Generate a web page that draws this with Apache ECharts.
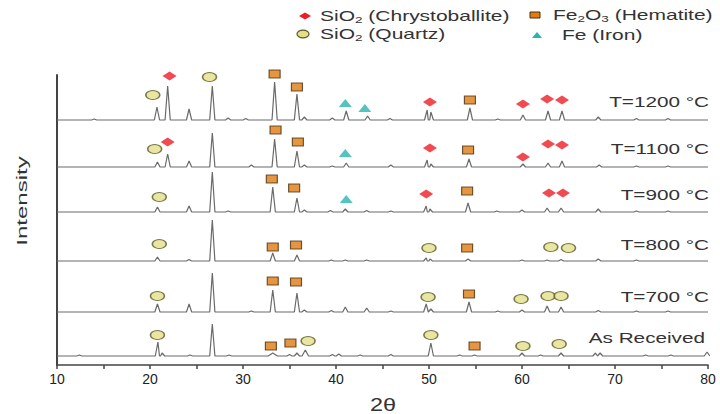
<!DOCTYPE html>
<html>
<head>
<meta charset="utf-8">
<script src="https://cdn.jsdelivr.net/npm/echarts@6/dist/echarts.min.js"></script>
<style>
  html, body { margin: 0; padding: 0; background: #fff; }
  #chart { width: 720px; height: 414px; }
</style>
</head>
<body>
<div id="chart"></div>
<script>
// samples, bottom to top, and the vertical offset of each trace
const samples = ['As Received', 'T=700 °C', 'T=800 °C', 'T=900 °C', 'T=1100 °C', 'T=1200 °C'];
const offsets = [9, 53, 104, 153, 198, 245];

// peaks: [2θ, height above the trace baseline, half width]
const peaksAR = [[12.4, 1], [20.85, 14], [21.3, 3], [24.3, 1], [26.7, 32], [28.5, 1], [33.2, 3, 0.5], [35.0, 1.5], [35.8, 3],
  [36.7, 6, 0.35], [39.6, 1.5], [40.3, 2], [42.6, 1], [45.9, 1.5], [50.2, 13], [53.3, 1], [54.9, 1],
  [60.0, 3], [62.0, 1], [64.2, 3], [67.9, 3], [68.4, 3], [73.3, 1], [76.0, 1], [79.9, 4, 0.3]];
const peaks700 = [[20.8, 8], [24.2, 8], [26.7, 39], [30.9, 1], [33.2, 22], [35.8, 19], [36.6, 2], [39.5, 1.5], [41.0, 5],
  [43.3, 4], [45.9, 1], [49.7, 8], [50.2, 3], [54.3, 10], [57.4, 1], [60.0, 2], [62.7, 6], [64.2, 5],
  [68.2, 1.5], [72.3, 1], [75.7, 1]];
const peaks800 = [[20.8, 4], [24.2, 1.5], [26.7, 41], [33.2, 8], [35.8, 6], [39.5, 1], [41.0, 1], [43.3, 1],
  [49.7, 3], [50.1, 2], [54.2, 2], [60.0, 1], [62.7, 1], [64.2, 1.5], [68.2, 2], [72.3, 1]];
const peaks900 = [[20.8, 5], [24.2, 6], [26.7, 40], [28.4, 1], [33.2, 25], [35.8, 14], [36.6, 2], [39.4, 1.5], [41.0, 3],
  [43.3, 1.5], [45.9, 1], [49.7, 6], [50.1, 3], [54.2, 9], [57.3, 1], [60.0, 2], [62.7, 4], [64.2, 4],
  [68.2, 3], [72.3, 1], [75.7, 1]];
const peaks1100 = [[20.8, 5], [21.9, 13], [24.2, 6], [26.7, 34], [30.9, 2], [33.4, 28], [35.8, 16], [36.6, 2],
  [39.6, 1], [41.1, 4], [45.9, 2], [49.8, 7], [50.2, 3], [54.3, 8], [60.1, 3], [62.8, 4], [64.3, 6],
  [68.3, 2], [72.3, 1], [75.7, 1]];
const peaks1200 = [[14.0, 1], [20.75, 13], [21.9, 34], [24.2, 11], [26.7, 34], [28.4, 2], [30.3, 1.5], [33.4, 38],
  [35.8, 26], [36.6, 3], [39.6, 2], [41.1, 9], [43.4, 4], [45.8, 1.5], [49.8, 10], [50.2, 8], [54.4, 12],
  [57.4, 1], [60.1, 5], [62.8, 9], [64.3, 9], [68.2, 3], [72.3, 1.5], [75.7, 1.5]];
const peakSets = [peaksAR, peaks700, peaks800, peaks900, peaks1100, peaks1200];

// phase markers: [2θ, height on the stacked intensity axis]
const cristobaliteMarks = [[22.1, 289], [50.1, 263], [60.1, 261], [62.7, 266], [64.3, 265],
  [21.9, 223], [50.1, 217], [60.1, 208], [62.8, 221], [64.3, 220],
  [49.7, 171], [62.9, 172], [64.4, 172]];
const quartzMarks = [[20.3, 270], [26.4, 288], [20.5, 216], [21.0, 168],
  [21.0, 121], [50.0, 117], [63.1, 118], [65.0, 117],
  [20.8, 69], [49.9, 68], [59.9, 66], [62.8, 69], [64.2, 69],
  [20.8, 30], [37.0, 24], [50.2, 30], [60.1, 19], [64.0, 21]];
const hematiteMarks = [[33.4, 291], [35.8, 278], [54.4, 265], [33.5, 235], [35.9, 223], [54.2, 215],
  [33.1, 186], [35.5, 177], [54.1, 174], [33.2, 118], [35.7, 120], [54.1, 117],
  [33.2, 84], [35.7, 83], [54.3, 71], [33.0, 19], [35.1, 22], [54.9, 19]];
const ironMarks = [[41.0, 262], [43.1, 257], [41.0, 212], [41.1, 166]];

const xTicks = [10, 20, 30, 40, 50, 60, 70, 80];

// build a polyline from the peak list
function trace(peaks, base) {
  const pts = [[xTicks[0], base]];
  peaks.forEach(function (p) {
    const w = p[2] || 0.28;
    pts.push([p[0] - w, base], [p[0], base + p[1]], [p[0] + w, base]);
  });
  const last = peaks[peaks.length - 1];
  if (last[0] < 79.5) pts.push([xTicks[xTicks.length - 1], base]);
  return pts.sort(function (a, b) { return a[0] - b[0]; });
}

const chart = echarts.init(document.getElementById('chart'), null, { renderer: 'svg' });

const lineSeries = samples.map(function (name, i) {
  return {
    name: name,
    type: 'line',
    data: trace(peakSets[i], offsets[i]),
    symbol: 'none',
    lineStyle: { color: '#6a6a6a', width: 1.2 },
    z: 2
  };
});

const markStyle = {
  cristobalite: { symbol: 'diamond', symbolSize: [14, 9], itemStyle: { color: '#ee1d25' } },
  quartz: { symbol: 'circle', symbolSize: [14, 9], itemStyle: { color: '#e3e08a', borderColor: '#5a5a2a', borderWidth: 1.2 } },
  hematite: { symbol: 'rect', symbolSize: [11, 8], itemStyle: { color: '#e07c12', borderColor: '#4a3010', borderWidth: 1 } },
  iron: { symbol: 'triangle', symbolSize: [13, 8], itemStyle: { color: '#2ab4b0' } }
};

function marks(name, data, st) {
  return Object.assign({ name: name, type: 'scatter', data: data, clip: false, z: 4 }, st);
}

const txt = { fontFamily: 'Liberation Sans, Arial, sans-serif', fill: '#333' };
const rich = { s: { fontSize: 9, fontFamily: 'Liberation Sans, Arial, sans-serif', fill: '#333', verticalAlign: 'bottom', padding: [7, 0, 0, 0] } };

const labelTops = [338, 297, 245.5, 195.5, 149.5, 102];
const labelGraphics = samples.map(function (name, i) {
  return {
    type: 'text', x: i === 0 ? 705 : 709, y: labelTops[i], scaleX: 1.48,
    style: Object.assign({ text: name, fontSize: 14, align: 'right', verticalAlign: 'middle', textAlign: 'right', textVerticalAlign: 'middle' }, txt)
  };
});

function legendText(x, y, text) {
  return {
    type: 'text', x: x, y: y, scaleX: 1.5,
    style: Object.assign({ text: text, fontSize: 14, rich: rich, align: 'left', verticalAlign: 'middle', textAlign: 'left', textVerticalAlign: 'middle' }, txt)
  };
}

const option = {
  animation: false,
  grid: { left: 57, right: 12, top: 75, bottom: 49, containLabel: false },
  xAxis: {
    type: 'value', min: 10, max: 80, interval: 10,
    axisLine: { onZero: false, lineStyle: { color: '#444', width: 1.5 } },
    axisTick: { length: 4, lineStyle: { color: '#444', width: 1.5 } },
    minorTick: { show: true, splitNumber: 2, length: 4, lineStyle: { color: '#444', width: 1.5 } },
    axisLabel: { fontSize: 14, color: '#222', margin: 7, fontFamily: 'Liberation Sans, Arial, sans-serif' },
    splitLine: { show: false }
  },
  yAxis: {
    type: 'value', min: 0, max: 290,
    axisLine: { show: true, onZero: false, lineStyle: { color: '#444', width: 2 } },
    axisTick: { show: false },
    axisLabel: { show: false },
    splitLine: { show: false }
  },
  series: lineSeries.concat([
    marks('SiO2 (Chrystoballite)', cristobaliteMarks, markStyle.cristobalite),
    marks('SiO2 (Quartz)', quartzMarks, markStyle.quartz),
    marks('Fe2O3 (Hematite)', hematiteMarks, markStyle.hematite),
    marks('Fe (Iron)', ironMarks, markStyle.iron)
  ]),
  graphic: labelGraphics.concat([
    // axis names
    { type: 'text', x: 22, y: 201, rotation: Math.PI / 2, scaleX: 1.6,
      style: Object.assign({ text: 'Intensity', fontSize: 15, align: 'center', verticalAlign: 'middle', textAlign: 'center', textVerticalAlign: 'middle' }, txt) },
    { type: 'text', x: 383, y: 405, scaleX: 1.3,
      style: Object.assign({ text: '2θ', fontSize: 18, align: 'center', verticalAlign: 'middle', textAlign: 'center', textVerticalAlign: 'middle' }, txt) },
    // legend
    { type: 'polygon', shape: { points: [[299, 16], [305, 12.5], [311, 16], [305, 19.5]] }, style: { fill: '#ee1d25' } },
    { type: 'ellipse', shape: { cx: 303, cy: 34, rx: 6, ry: 3.8 }, style: { fill: '#e3e08a', stroke: '#5a5a2a', lineWidth: 1.2 } },
    { type: 'rect', shape: { x: 530, y: 12, width: 10, height: 6 }, style: { fill: '#e07c12', stroke: '#4a3010', lineWidth: 1 } },
    { type: 'polygon', shape: { points: [[532, 38], [537, 32], [542, 38]] }, style: { fill: '#2ab4b0' } },
    legendText(320, 16, 'SiO{s|2} (Chrystoballite)'),
    legendText(320, 34, 'SiO{s|2} (Quartz)'),
    legendText(553, 15, 'Fe{s|2}O{s|3} (Hematite)'),
    legendText(562, 35, 'Fe (Iron)')
  ])
};

chart.setOption(option);
</script>
</body>
</html>
